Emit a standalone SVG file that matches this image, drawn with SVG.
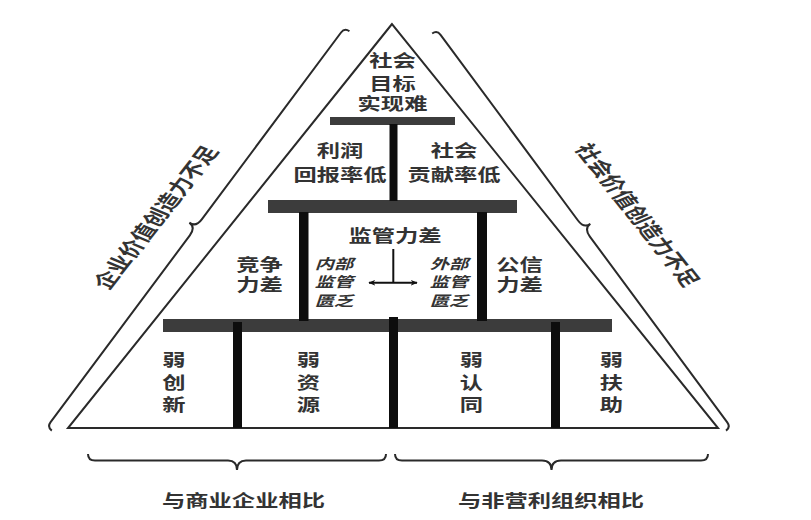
<svg xmlns="http://www.w3.org/2000/svg" width="811" height="520" viewBox="0 0 811 520">
<defs>
<style>
.t{font-family:"Noto Sans CJK SC","Noto Sans",sans-serif;font-size:17px;font-weight:700;fill:#333;text-anchor:middle}
.it{font-size:14px;font-style:italic}
.side{font-size:18px}
.bar{fill:#3c3c3c}
.post{fill:#0d0d0d}
.ln{fill:none;stroke:#2a2a2a;stroke-width:2}
.arw{fill:none;stroke:#111;stroke-width:2}
</style>
<marker id="ah" viewBox="0 0 10 10" refX="9" refY="5" markerWidth="7" markerHeight="7" orient="auto-start-reverse" markerUnits="userSpaceOnUse">
<path d="M0,1 L10,5 L0,9 L3,5 Z" fill="#111"/>
</marker>
</defs>
<rect width="811" height="520" fill="#fff"/>

<g id="frame">
<polygon class="ln" points="392,24 68,428 718,428"/>
</g>

<g id="connectors">
<rect class="bar" x="330" y="117" width="125" height="8"/>
<rect class="bar" x="268" y="200" width="249" height="13"/>
<rect class="bar" x="163" y="319" width="449" height="13"/>
<rect class="post" x="389.5" y="124" width="8" height="77"/>
<rect class="post" x="299" y="212" width="9.5" height="109"/>
<rect class="post" x="477" y="212" width="10" height="109"/>
<rect class="post" x="233" y="322" width="9" height="106"/>
<rect class="post" x="389" y="317" width="9" height="111"/>
<rect class="post" x="551" y="322" width="9" height="106"/>
<path class="arw" d="M393.3,249 V282.7"/>
<path class="arw" d="M369,282.7 H417" marker-start="url(#ah)" marker-end="url(#ah)"/>
<path class="ln" transform="translate(47,427) rotate(-53.3)" d="M0,6 Q0,0 6,0 L239,0 Q249,0 249,-8 Q249,0 259,0 L492,0 Q498,0 498,6"/>
<path class="ln" transform="translate(437,30) rotate(53.5)" d="M0,6 Q0,0 6,0 L237,0 Q247,0 247,-8 Q247,0 257,0 L488,0 Q494,0 494,6"/>
<path class="ln" d="M88,454 Q88,460.5 95,460.5 L228,460.5 Q237,460.5 237,470 Q237,460.5 246,460.5 L379,460.5 Q386,460.5 386,454"/>
<path class="ln" d="M395,454 Q395,460.5 402,460.5 L542,460.5 Q551.5,460.5 551.5,470 Q551.5,460.5 561,460.5 L701,460.5 Q708,460.5 708,454"/>
</g>

<g id="n-goal"><text class="t" transform="translate(392.5,0) scale(1.37,1)"><tspan x="0" y="67">社会</tspan><tspan x="0" y="90.5">目标</tspan><tspan x="0" y="110.5">实现难</tspan></text></g>
<g id="n-profit"><text class="t" transform="translate(340,0) scale(1.37,1)"><tspan x="0" y="157">利润</tspan><tspan x="0" y="181">回报率低</tspan></text></g>
<g id="n-contrib"><text class="t" transform="translate(454,0) scale(1.37,1)"><tspan x="0" y="157">社会</tspan><tspan x="0" y="181">贡献率低</tspan></text></g>
<g id="n-supervise"><text class="t" transform="translate(395,0) scale(1.37,1)"><tspan x="0" y="242">监管力差</tspan></text></g>
<g id="n-compete"><text class="t" transform="translate(259.5,0) scale(1.37,1)"><tspan x="0" y="271">竞争</tspan><tspan x="0" y="291">力差</tspan></text></g>
<g id="n-credit"><text class="t" transform="translate(519.5,0) scale(1.37,1)"><tspan x="0" y="271">公信</tspan><tspan x="0" y="291">力差</tspan></text></g>
<g id="n-internal"><text class="t it" transform="translate(334,0) scale(1.37,1)"><tspan x="0" y="269">内部</tspan><tspan x="0" y="287">监管</tspan><tspan x="0" y="306">匮乏</tspan></text></g>
<g id="n-external"><text class="t it" transform="translate(449,0) scale(1.37,1)"><tspan x="0" y="269">外部</tspan><tspan x="0" y="287">监管</tspan><tspan x="0" y="306">匮乏</tspan></text></g>
<g id="n-innov"><text class="t" transform="translate(174,0) scale(1.37,1)"><tspan x="0" y="366">弱</tspan><tspan x="0" y="389">创</tspan><tspan x="0" y="411">新</tspan></text></g>
<g id="n-resource"><text class="t" transform="translate(308.5,0) scale(1.37,1)"><tspan x="0" y="366">弱</tspan><tspan x="0" y="389">资</tspan><tspan x="0" y="411">源</tspan></text></g>
<g id="n-recog"><text class="t" transform="translate(471.5,0) scale(1.37,1)"><tspan x="0" y="366">弱</tspan><tspan x="0" y="389">认</tspan><tspan x="0" y="411">同</tspan></text></g>
<g id="n-support"><text class="t" transform="translate(611.5,0) scale(1.37,1)"><tspan x="0" y="366">弱</tspan><tspan x="0" y="389">扶</tspan><tspan x="0" y="411">助</tspan></text></g>
<g id="n-business"><text class="t" transform="translate(243.5,0) scale(1.37,1)"><tspan x="0" y="507">与商业企业相比</tspan></text></g>
<g id="n-nonprofit"><text class="t" transform="translate(551,0) scale(1.37,1)"><tspan x="0" y="507">与非营利组织相比</tspan></text></g>
<g id="n-left-side"><text class="t side" transform="translate(156,217.5) scale(1.37,1) rotate(-60)" x="0" y="6.5">企业价值创造力不足</text></g>
<g id="n-right-side"><text class="t side" transform="translate(637.5,215) scale(1.37,1) rotate(60)" x="0" y="6.5">社会价值创造力不足</text></g>
</svg>
